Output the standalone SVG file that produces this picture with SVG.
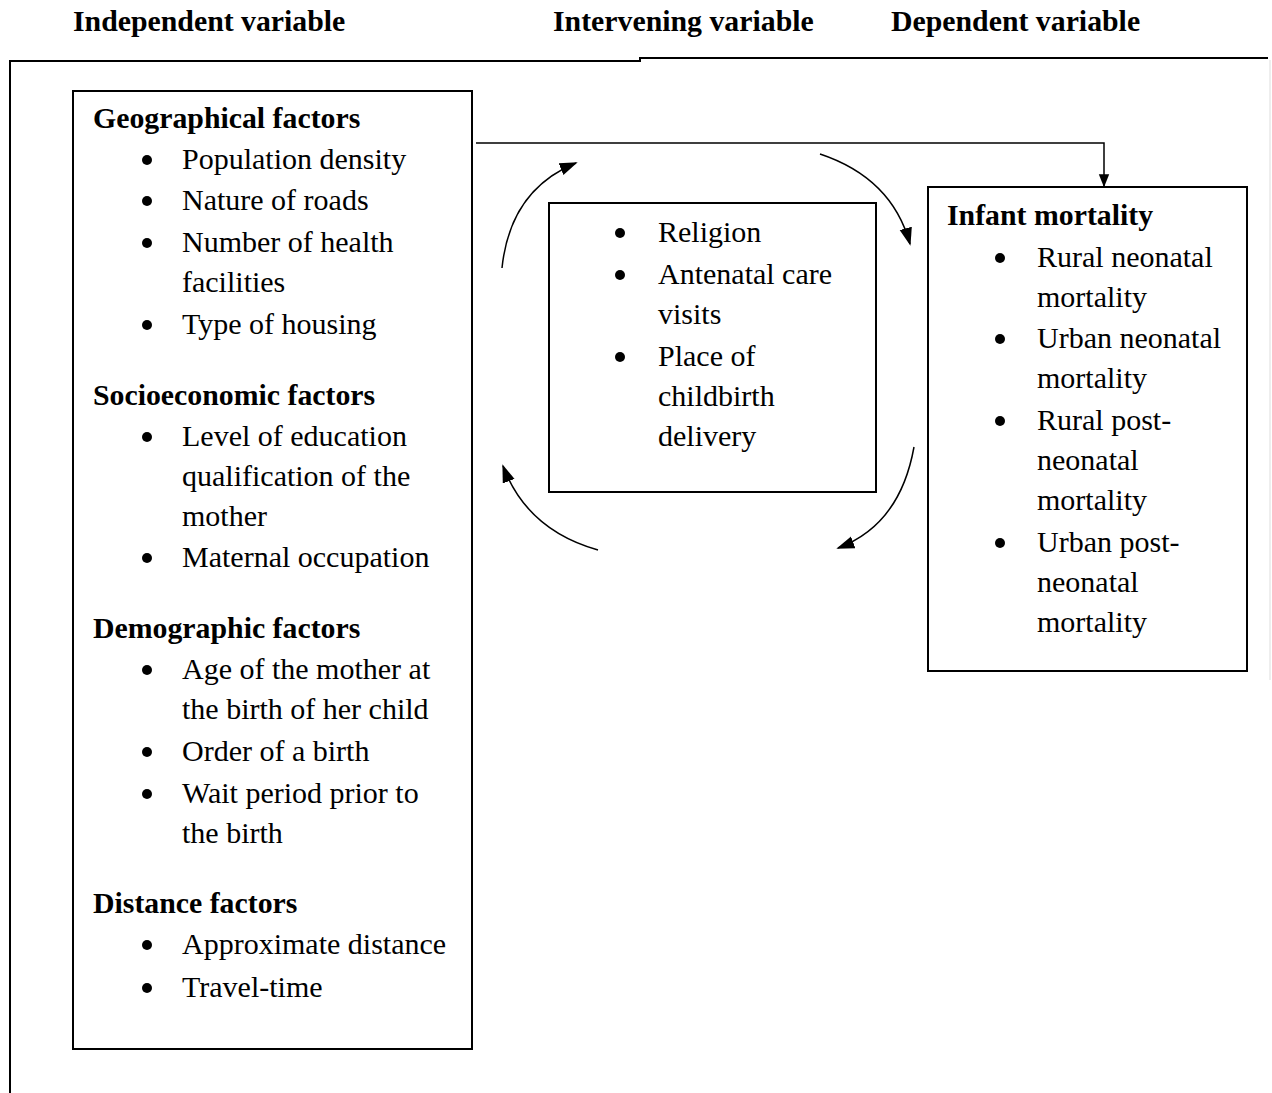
<svg xmlns="http://www.w3.org/2000/svg" width="1272" height="1093" viewBox="0 0 1272 1093">
<style>
.h{font-family:"Liberation Serif","Times New Roman",serif;font-weight:bold;font-size:29.8px;fill:#000}
.t{font-family:"Liberation Serif","Times New Roman",serif;font-size:30px;fill:#000}
.box{fill:#fff;stroke:#000;stroke-width:2}
.ln{fill:none;stroke:#000;stroke-width:2}
.c{fill:none;stroke:#000;stroke-width:1.5}
</style>
<defs>
<marker id="ah" viewBox="0 0 10 10" refX="9" refY="5" markerWidth="13" markerHeight="13" markerUnits="userSpaceOnUse" orient="auto"><path d="M0,1 L10,5 L0,9 z" fill="#000"/></marker>
<marker id="ah2" viewBox="0 0 10 10" refX="9" refY="5" markerWidth="18" markerHeight="18" markerUnits="userSpaceOnUse" orient="auto"><path d="M0,1.5 L10,5 L0,8.5 z" fill="#000"/></marker>
</defs>
<rect width="1272" height="1093" fill="#fff"/>
<g id="headers">
<text class="h" x="73" y="31">Independent variable</text>
<text class="h" x="553" y="31">Intervening variable</text>
<text class="h" x="891" y="31">Dependent variable</text>
</g>
<g id="frame">
<path class="ln" d="M10,1093 V61 H640 V58 H1268"/>
<line x1="1270" y1="60" x2="1270" y2="680" stroke="#ddd" stroke-width="1"/>
</g>
<g id="independent">
<rect class="box" x="73" y="91" width="399" height="958"/>
<text class="h" x="93" y="128">Geographical factors</text>
<circle cx="147" cy="160" r="5"/><text class="t" x="182" y="169">Population density</text>
<circle cx="147" cy="201" r="5"/><text class="t" x="182" y="210">Nature of roads</text>
<circle cx="147" cy="243" r="5"/><text class="t" x="182" y="252">Number of health</text>
<text class="t" x="182" y="292">facilities</text>
<circle cx="147" cy="325" r="5"/><text class="t" x="182" y="334">Type of housing</text>
<text class="h" x="93" y="405">Socioeconomic factors</text>
<circle cx="147" cy="437" r="5"/><text class="t" x="182" y="446">Level of education</text>
<text class="t" x="182" y="486">qualification of the</text>
<text class="t" x="182" y="526">mother</text>
<circle cx="147" cy="558" r="5"/><text class="t" x="182" y="567">Maternal occupation</text>
<text class="h" x="93" y="638">Demographic factors</text>
<circle cx="147" cy="670" r="5"/><text class="t" x="182" y="679">Age of the mother at</text>
<text class="t" x="182" y="719">the birth of her child</text>
<circle cx="147" cy="752" r="5"/><text class="t" x="182" y="761">Order of a birth</text>
<circle cx="147" cy="794" r="5"/><text class="t" x="182" y="803">Wait period prior to</text>
<text class="t" x="182" y="843">the birth</text>
<text class="h" x="93" y="913">Distance factors</text>
<circle cx="147" cy="945" r="5"/><text class="t" x="182" y="954">Approximate distance</text>
<circle cx="147" cy="988" r="5"/><text class="t" x="182" y="997">Travel-time</text>
</g>
<g id="intervening">
<rect class="box" x="549" y="203" width="327" height="289"/>
<circle cx="620" cy="233" r="5"/><text class="t" x="658" y="242">Religion</text>
<circle cx="620" cy="275" r="5"/><text class="t" x="658" y="284">Antenatal care</text>
<text class="t" x="658" y="324">visits</text>
<circle cx="620" cy="357" r="5"/><text class="t" x="658" y="366">Place of</text>
<text class="t" x="658" y="406">childbirth</text>
<text class="t" x="658" y="446">delivery</text>
</g>
<g id="dependent">
<rect class="box" x="928" y="187" width="319" height="484"/>
<text class="h" x="947" y="225">Infant mortality</text>
<circle cx="1000" cy="258" r="5"/><text class="t" x="1037" y="267">Rural neonatal</text>
<text class="t" x="1037" y="307">mortality</text>
<circle cx="1000" cy="339" r="5"/><text class="t" x="1037" y="348">Urban neonatal</text>
<text class="t" x="1037" y="388">mortality</text>
<circle cx="1000" cy="421" r="5"/><text class="t" x="1037" y="430">Rural post-</text>
<text class="t" x="1037" y="470">neonatal</text>
<text class="t" x="1037" y="510">mortality</text>
<circle cx="1000" cy="543" r="5"/><text class="t" x="1037" y="552">Urban post-</text>
<text class="t" x="1037" y="592">neonatal</text>
<text class="t" x="1037" y="632">mortality</text>
</g>
<g id="connectors">
<path class="c" d="M476,143 H1104 V186" marker-end="url(#ah)"/>
<path class="c" d="M502,268 Q510,190 576,163" marker-end="url(#ah2)"/>
<path class="c" d="M820,154 Q892,178 910,244" marker-end="url(#ah2)"/>
<path class="c" d="M914,447 Q900,525 838,548" marker-end="url(#ah2)"/>
<path class="c" d="M598,550 Q527,530 503,466" marker-end="url(#ah2)"/>
</g>
</svg>
